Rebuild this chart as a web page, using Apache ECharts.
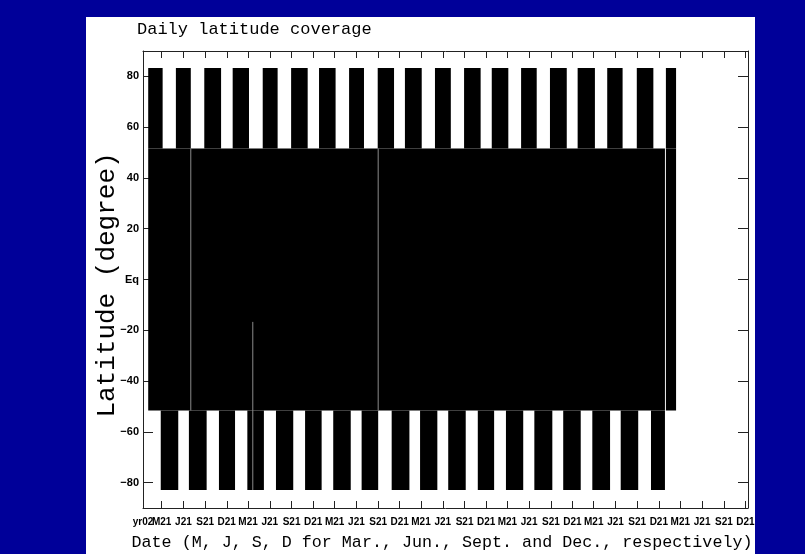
<!DOCTYPE html>
<html>
<head>
<meta charset="utf-8">
<script src="https://cdn.jsdelivr.net/npm/echarts@6/dist/echarts.min.js"></script>
<style>html,body{margin:0;padding:0;background:#000099;}#c{width:805px;height:554px;}</style>
</head>
<body>
<div id="c"></div>
<script>
// ---- data ----
const coreStart = ['2002-01-23', '2008-01-20'];
const coreEnd   = ['2008-01-16', '2008-03-03'];
const coreLat   = [-51.6, 51.6];

const northStart = ['2002-01-23','2002-05-20','2002-09-17','2003-01-15','2003-05-22','2003-09-19','2004-01-15','2004-05-21','2004-09-19','2005-01-12','2005-05-19','2005-09-19','2006-01-14','2006-05-18','2006-09-17','2007-01-12','2007-05-17','2007-09-19','2008-01-20'];
const northEnd   = ['2002-03-25','2002-07-22','2002-11-27','2003-03-25','2003-07-24','2003-11-28','2004-03-25','2004-07-23','2004-11-27','2005-03-24','2005-07-25','2005-11-28','2006-03-25','2006-07-23','2006-11-27','2007-03-26','2007-07-21','2007-11-28','2008-03-03'];
const northLat   = [51.6, 83.3];

const southStart = ['2002-03-17','2002-07-14','2002-11-18','2003-03-18','2003-07-17','2003-11-17','2004-03-15','2004-07-13','2004-11-17','2005-03-17','2005-07-14','2005-11-16','2006-03-15','2006-07-13','2006-11-12','2007-03-15','2007-07-13','2007-11-18'];
const southEnd   = ['2002-05-30','2002-09-27','2003-01-25','2003-05-27','2003-09-28','2004-01-26','2004-05-28','2004-09-21','2005-01-31','2005-05-29','2005-09-26','2006-01-24','2006-05-27','2006-09-27','2007-01-25','2007-05-29','2007-09-25','2008-01-16'];
const southLat   = [-82.9, -51.6];

// days with missing coverage
const gapDates = ['2002-07-22', '2003-04-10', '2004-09-21'];
const gapMin   = [-51.6, -82.9, -51.6];
const gapMax   = [51.6, -16.7, 51.6];

// axis ticks / labels
const axisStart = '2002-01-01';
const axisEnd   = '2009-01-01';
const startLabel = 'yr02';
const years = [2002, 2003, 2004, 2005, 2006, 2007, 2008];
const seasonDays = ['03-21', '06-21', '09-21', '12-21'];
const seasonLabels = ['M21', 'J21', 'S21', 'D21'];
const latTicks = [-80, -60, -40, -20, 0, 20, 40, 60, 80];

// ---- build ----
const T = s => Date.parse(s);
const segs = [];
coreStart.forEach((s, i) => segs.push([T(s), T(coreEnd[i]), coreLat[0], coreLat[1]]));
northStart.forEach((s, i) => segs.push([T(s), T(northEnd[i]), northLat[0], northLat[1]]));
southStart.forEach((s, i) => segs.push([T(s), T(southEnd[i]), southLat[0], southLat[1]]));
const gaps = gapDates.map((d, i) => [T(d), gapMin[i], gapMax[i]]);

const tickVals = [];
const labelMap = {};
years.forEach(y => seasonDays.forEach((md, k) => {
  const t = T(y + '-' + md);
  tickVals.push(t);
  labelMap[t] = seasonLabels[k];
}));

const chart = echarts.init(document.getElementById('c'), null, {renderer: 'canvas'});
const frame = {show: true, onZero: false, lineStyle: {color: '#222', width: 1}};
const xBase = {
  type: 'value', min: T(axisStart), max: T(axisEnd),
  axisLine: frame, splitLine: {show: false}
};
const yBase = {
  type: 'value', min: -90, max: 90,
  axisLine: frame, splitLine: {show: false}
};
const xLabelFont = {fontFamily: 'Liberation Sans', fontSize: 10, fontWeight: 'bold', color: '#000'};
chart.setOption({
  backgroundColor: '#000099',
  animation: false,
  grid: {left: 143, right: 57, top: 51, bottom: 46, containLabel: false},
  graphic: [
    {type: 'rect', z: -100, shape: {x: 86, y: 17, width: 669, height: 540}, style: {fill: '#ffffff'}},
    {type: 'text', x: 137, y: 29, style: {text: 'Daily latitude coverage', fontFamily: 'Liberation Mono', fontSize: 17, fill: '#000', align: 'left', verticalAlign: 'middle'}},
    {type: 'text', x: 442, y: 543, style: {text: 'Date (M, J, S, D for Mar., Jun., Sept. and Dec., respectively)', fontFamily: 'Liberation Mono', fontSize: 16.7, fill: '#000', align: 'center', verticalAlign: 'middle'}},
    {type: 'text', x: 107, y: 285, rotation: Math.PI / 2, style: {text: 'Latitude (degree)', fontFamily: 'Liberation Mono', fontSize: 26, fill: '#000', align: 'center', verticalAlign: 'middle'}}
  ],
  xAxis: [
    Object.assign({}, xBase, {
      position: 'bottom',
      axisTick: {show: true, inside: true, length: 7, customValues: tickVals, lineStyle: {color: '#222'}},
      axisLabel: Object.assign({show: true, margin: 9, customValues: tickVals, formatter: v => labelMap[v] || ''}, xLabelFont)
    }),
    Object.assign({}, xBase, {
      position: 'top',
      axisTick: {show: true, inside: true, length: 7, customValues: tickVals, lineStyle: {color: '#222'}},
      axisLabel: {show: false}
    }),
    Object.assign({}, xBase, {
      position: 'bottom', offset: 0,
      axisLine: {show: false, onZero: false},
      axisTick: {show: false},
      axisLabel: Object.assign({show: true, margin: 9, customValues: [T(axisStart)], showMinLabel: true, formatter: () => startLabel}, xLabelFont)
    })
  ],
  yAxis: [
    Object.assign({}, yBase, {
      position: 'left',
      axisTick: {show: true, inside: true, length: 10, customValues: latTicks, lineStyle: {color: '#222'}},
      axisLabel: {show: true, margin: 4, customValues: latTicks, showMinLabel: true, showMaxLabel: true,
        fontFamily: 'Liberation Sans', fontSize: 11, fontWeight: 'bold', color: '#000',
        formatter: v => v === 0 ? 'Eq' : (v < 0 ? '\u2212' + (-v) : String(v))}
    }),
    Object.assign({}, yBase, {
      position: 'right',
      axisTick: {show: true, inside: true, length: 10, customValues: latTicks, lineStyle: {color: '#222'}},
      axisLabel: {show: false}
    })
  ],
  series: [
    {
      type: 'custom', name: 'coverage', xAxisIndex: 0, yAxisIndex: 0, clip: true,
      encode: {x: [0, 1], y: [2, 3]},
      data: segs,
      renderItem: (params, api) => {
        const p0 = api.coord([api.value(0), api.value(3)]);
        const p1 = api.coord([api.value(1), api.value(2)]);
        return {type: 'rect', shape: {x: p0[0], y: p0[1], width: p1[0] - p0[0], height: p1[1] - p0[1]}, style: {fill: '#000'}};
      }
    },
    {
      type: 'custom', name: 'gaps', xAxisIndex: 0, yAxisIndex: 0, clip: true, z: 3,
      encode: {x: 0, y: [1, 2]},
      data: gaps,
      renderItem: (params, api) => {
        const a = api.coord([api.value(0), api.value(1)]);
        const b = api.coord([api.value(0), api.value(2)]);
        return {type: 'line', shape: {x1: a[0], y1: a[1], x2: b[0], y2: b[1]}, style: {stroke: '#8a8a8a', lineWidth: 1}};
      }
    }
  ]
});
</script>
</body>
</html>
